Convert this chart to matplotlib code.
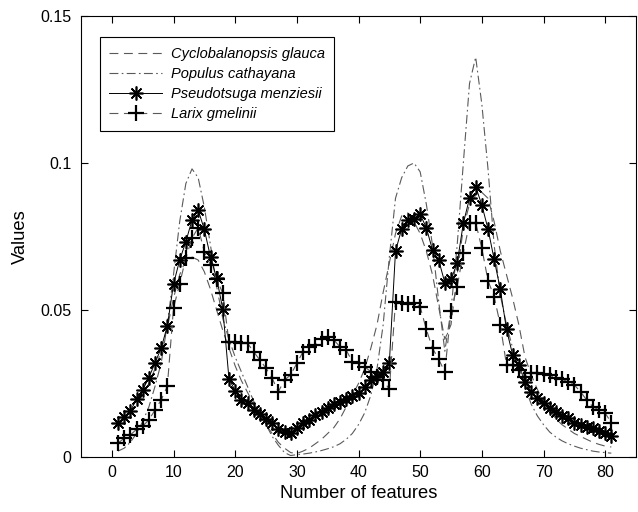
import numpy as np
import matplotlib
matplotlib.use("Agg")
import matplotlib.pyplot as plt

x = list(range(1, 82))

cyclobalanopsis = [
    0.011, 0.013, 0.015, 0.018, 0.021, 0.025, 0.030, 0.036, 0.044, 0.054,
    0.062, 0.067, 0.068, 0.067, 0.063, 0.057, 0.050, 0.043, 0.037, 0.031,
    0.026, 0.022, 0.018, 0.014, 0.011, 0.008, 0.005, 0.003, 0.0015, 0.0012,
    0.002, 0.003, 0.0045, 0.006, 0.008, 0.010, 0.013, 0.017, 0.021, 0.025,
    0.030, 0.037, 0.045, 0.056, 0.066, 0.076, 0.082, 0.083, 0.080, 0.076,
    0.070, 0.062, 0.051, 0.040, 0.045, 0.062, 0.078, 0.086, 0.089, 0.090,
    0.088, 0.080, 0.070, 0.062, 0.054, 0.045, 0.034, 0.028, 0.023, 0.019,
    0.016, 0.013, 0.011, 0.0095, 0.008, 0.007, 0.006, 0.005, 0.0043, 0.0037,
    0.0034,
]

populus = [
    0.002, 0.003, 0.005, 0.008, 0.012, 0.017, 0.024, 0.032, 0.045, 0.062,
    0.080, 0.093, 0.098, 0.095, 0.085, 0.072, 0.058, 0.047, 0.040, 0.034,
    0.029, 0.024, 0.019, 0.015, 0.011, 0.007, 0.004, 0.0015, 0.0005, 0.0008,
    0.001, 0.0013, 0.0017, 0.0022, 0.0028, 0.0035, 0.0045, 0.006, 0.008, 0.011,
    0.015, 0.021, 0.030, 0.045, 0.068, 0.088, 0.095, 0.099, 0.100, 0.097,
    0.086, 0.072, 0.053, 0.036, 0.050, 0.072, 0.100, 0.127, 0.136, 0.120,
    0.098, 0.072, 0.055, 0.045, 0.037, 0.030, 0.024, 0.018, 0.014, 0.011,
    0.0085, 0.0068, 0.0055, 0.0045, 0.0037, 0.003, 0.0025, 0.002, 0.0017, 0.0015,
    0.0013,
]

pseudotsuga = [
    0.0115, 0.0137, 0.0156, 0.0196, 0.0228, 0.027, 0.032, 0.037, 0.0446, 0.0588,
    0.067, 0.0732, 0.0806, 0.084, 0.0774, 0.068, 0.0608, 0.0502, 0.0265, 0.0226,
    0.0195, 0.0185, 0.0160, 0.0145, 0.013, 0.0115, 0.0095, 0.0084, 0.0083, 0.0098,
    0.0115, 0.0126, 0.0143, 0.0154, 0.0166, 0.018, 0.0188, 0.0198, 0.0207, 0.0216,
    0.0237, 0.0262, 0.0276, 0.029, 0.032, 0.070, 0.0776, 0.0806, 0.081, 0.0825,
    0.078, 0.0704, 0.067, 0.0593, 0.0604, 0.0659, 0.0795, 0.088, 0.092, 0.0857,
    0.0776, 0.0672, 0.057, 0.0434, 0.0347, 0.0313, 0.0256, 0.0222, 0.020, 0.0183,
    0.0166, 0.0154, 0.014, 0.0134, 0.0117, 0.0109, 0.0103, 0.0098, 0.0088, 0.008,
    0.0071,
]

larix = [
    0.0047, 0.0064, 0.0075, 0.0094, 0.0105, 0.0126, 0.016, 0.0194, 0.0241, 0.0506,
    0.059, 0.0676, 0.0744, 0.078, 0.0698, 0.0653, 0.0604, 0.0557, 0.039, 0.039,
    0.0389, 0.0387, 0.0358, 0.033, 0.0302, 0.0268, 0.0222, 0.0262, 0.0279, 0.0319,
    0.0358, 0.0375, 0.0381, 0.040, 0.0407, 0.0398, 0.0375, 0.0364, 0.0324, 0.0319,
    0.0307, 0.029, 0.0273, 0.0262, 0.023, 0.0528, 0.0525, 0.052, 0.0523, 0.0511,
    0.0434, 0.037, 0.0332, 0.029, 0.0498, 0.0579, 0.0695, 0.0795, 0.0797, 0.071,
    0.060, 0.0545, 0.0449, 0.0313, 0.0313, 0.0296, 0.0273, 0.0285, 0.0285, 0.0282,
    0.0279, 0.0268, 0.0264, 0.0256, 0.0245, 0.0222, 0.0194, 0.0171, 0.016, 0.0149,
    0.0117,
]

labels = ["Cyclobalanopsis glauca", "Populus cathayana",
          "Pseudotsuga menziesii", "Larix gmelinii"]

plt.rcParams['font.family'] = ['Liberation Sans', 'DejaVu Sans']

fig = plt.figure(figsize=(6.38, 5.12), dpi=100)
ax = fig.add_axes([81/638, 1-457/512, 555/638, 441/512])

gray = '#5a5a5a'
ast = (8, 2, 0)
ax.plot(x, cyclobalanopsis, color=gray, lw=0.8, ls=(0, (8, 5)), label=labels[0])
ax.plot(x, populus, color=gray, lw=0.8, ls=(0, (8, 3, 1.5, 3)), label=labels[1])
ax.plot(x, pseudotsuga, color='black', lw=0.7, ls='-', marker=ast,
        markersize=10, markeredgewidth=1.2, markeredgecolor='black', label=labels[2])
ax.plot(x, larix, color=gray, lw=0.8, ls=(0, (8, 5)), marker='+',
        markersize=11, markeredgewidth=1.6, markeredgecolor='black',
        markerfacecolor='black', label=labels[3])

ax.set_xlim(-5, 85)
ax.set_ylim(0, 0.15)
ax.set_xticks(range(0, 81, 10))
ax.set_yticks([0, 0.05, 0.1, 0.15])
ax.set_yticklabels(['0', '0.05', '0.1', '0.15'])
ax.tick_params(direction='in', top=True, right=True, labelsize=11.5, length=5, width=0.8)
ax.tick_params(axis='y', pad=7)
ax.tick_params(axis='x', pad=6)
for s in ax.spines.values():
    s.set_linewidth(0.8)
ax.set_xlabel('Number of features', fontsize=13.2, labelpad=3)
ax.set_ylabel('Values', fontsize=13.2, labelpad=8)

leg = ax.legend(loc='upper left', bbox_to_anchor=(0.034, 0.952), borderaxespad=0,
                prop={'style': 'italic', 'size': 10.5}, handlelength=3.6,
                handletextpad=0.6, labelspacing=0.42, fancybox=False,
                edgecolor='black', framealpha=1, borderpad=0.65)
leg.get_frame().set_linewidth(0.8)

fig.savefig('out.png', dpi=100)
